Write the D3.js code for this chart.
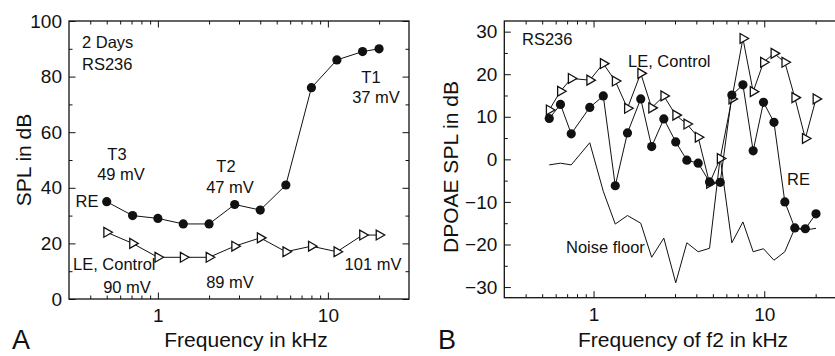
<!DOCTYPE html>
<html>
<head>
<meta charset="utf-8">
<script src="https://cdn.jsdelivr.net/npm/d3@7"></script>
<style>
  body { margin: 0; background: #fff; }
  text { font-family: "Liberation Sans", Arial, sans-serif; fill: #111; }
</style>
</head>
<body>
<svg id="chart" width="835" height="356"></svg>
<script>
// --> DATA
// Panel A: thresholds (SPL in dB) per frequency
var freqA = [0.5, 0.71, 1, 1.41, 2, 2.83, 4, 5.66, 8, 11.3, 16, 20];
var threshRE = [35, 30, 29, 27, 27, 34, 32, 41, 76, 86, 89, 90];
var threshLE = [24, 20, 15, 15, 15, 19, 22, 17, 19, 17, 23, 23];

// Panel B: DPOAE levels per f2 frequency
var freqB = [0.55, 0.64, 0.74, 0.95, 1.14, 1.34, 1.58, 1.89, 2.19, 2.58, 3.03, 3.52,
             4.1, 4.78, 5.52, 6.46, 7.5, 8.61, 9.9, 11.4, 13.2, 15.1, 17.4, 20.1];
var dpRE = [9.6, 12.9, 6.0, 12.2, 14.9, -6.2, 6.2, 14.2, 3.0, 9.5, 4.1, -0.2,
            -0.9, -5.3, -5.4, 15.1, 17.5, 2.0, 13.4, 8.7, -10, -16.1, -16.3, -12.8];
var dpLE = [11.6, 16.0, 19.0, 18.6, 22.5, 18.4, 12.0, 20.2, 12.1, 14.9, 10.4, 8.3,
            5.2, -5.6, 0.2, 14.2, 28.4, 15.9, 22.8, 24.9, 22.8, 14.5, 4.9, 14.2];
var noiseFloor = [-1.3, -0.9, -1.3, 3.9, -7.5, -15.2, -13.2, -15, -23, -18.5, -29, -19.6,
                  -21.7, -20.9, 0.5, -19.6, -14.7, -21.7, -21, -23.7, -21.7, -16.2, -16.6, -16.2];

// Tick values
var xMajor = [1, 10];
var xMinor = [0.4, 0.5, 0.6, 0.7, 0.8, 0.9, 2, 3, 4, 5, 6, 7, 8, 9, 20];
var yMajorA = [0, 20, 40, 60, 80, 100];
var yMinorA = [10, 30, 50, 70, 90];
var yMajorB = [-30, -20, -10, 0, 10, 20, 30];
var yMinorB = [-25, -15, -5, 5, 15, 25];

var svg = d3.select("#chart");

// draw a panel frame with inward ticks on all four sides
function drawFrame(g, x, y, yMajor, yMinor) {
    var x0 = x.range()[0], x1 = x.range()[1];
    var y0 = y.range()[0], y1 = y.range()[1];

    function axisPair(axisFn, scale, major, minor, tx, ty, labels) {
        g.append("g")
            .attr("transform", "translate(" + tx + "," + ty + ")")
            .call(axisFn(scale).tickValues(minor).tickSize(-3.5).tickFormat(""))
            .call(function (s) { s.select(".domain").remove(); });
        var ax = g.append("g")
            .attr("transform", "translate(" + tx + "," + ty + ")")
            .call(axisFn(scale).tickValues(major).tickSize(-6.5).tickPadding(7)
                .tickFormat(labels ? d3.format("d") : ""))
            .call(function (s) { s.select(".domain").remove(); });
        ax.selectAll("line").attr("stroke", "#111");
        ax.selectAll("text").attr("font-size", "19px").attr("fill", "#111");
        g.selectAll("line").attr("stroke", "#111");
        return ax;
    }

    axisPair(d3.axisBottom, x, xMajor, xMinor, 0, y0, true)
        .selectAll("text").attr("dy", "0.71em").attr("y", 10);
    axisPair(d3.axisTop, x, xMajor, xMinor, 0, y1, false);
    axisPair(d3.axisLeft, y, yMajor, yMinor, x0, 0, true);
    axisPair(d3.axisRight, y, yMajor, yMinor, x1, 0, false);

    g.append("rect")
        .attr("x", x0).attr("y", y1)
        .attr("width", x1 - x0).attr("height", y0 - y1)
        .attr("fill", "none").attr("stroke", "#111").attr("stroke-width", 1.3);
}

function drawSeries(g, x, y, freqs, vals, marker) {
    var pts = freqs.map(function (f, i) { return [f, vals[i]]; });
    var line = d3.line().x(function (d) { return x(d[0]); }).y(function (d) { return y(d[1]); });
    g.append("path").attr("d", line(pts))
        .attr("fill", "none").attr("stroke", "#111").attr("stroke-width", 1);
    if (marker === "circle") {
        g.selectAll(null).data(pts).enter().append("circle")
            .attr("cx", function (d) { return x(d[0]); })
            .attr("cy", function (d) { return y(d[1]); })
            .attr("r", 4.6).attr("fill", "#111");
    } else if (marker === "triangle") {
        var tri = d3.symbol().type(d3.symbolTriangle).size(42);
        g.selectAll(null).data(pts).enter().append("path")
            .attr("d", tri)
            .attr("transform", function (d) {
                return "translate(" + x(d[0]) + "," + y(d[1]) + ") rotate(90)";
            })
            .attr("fill", "#fff").attr("stroke", "#111").attr("stroke-width", 1.3);
    }
}

function label(g, txt, x, y, anchor, size) {
    g.append("text").attr("x", x).attr("y", y)
        .attr("text-anchor", anchor || "start")
        .attr("font-size", (size || 16.5) + "px")
        .text(txt);
}

// --> PANEL A
var xA = d3.scaleLog().domain([0.3, 30]).range([69, 409]);
var yA = d3.scaleLinear().domain([0, 100]).range([299, 21]);
var gA = svg.append("g");
drawFrame(gA, xA, yA, yMajorA, yMinorA);
drawSeries(gA, xA, yA, freqA, threshLE, "triangle");
drawSeries(gA, xA, yA, freqA, threshRE, "circle");

label(gA, "2 Days", 82, 48);
label(gA, "RS236", 82, 70);
label(gA, "T3", 117, 160, "middle");
label(gA, "49 mV", 121, 180, "middle");
label(gA, "RE", 87, 207, "middle");
label(gA, "T2", 226, 172, "middle");
label(gA, "47 mV", 230, 193, "middle");
label(gA, "T1", 371, 83, "middle");
label(gA, "37 mV", 376, 103, "middle");
label(gA, "LE, Control", 73, 270);
label(gA, "90 mV", 127, 293, "middle");
label(gA, "89 mV", 230, 288, "middle");
label(gA, "101 mV", 373, 270, "middle");

gA.append("text").attr("x", 246).attr("y", 347).attr("text-anchor", "middle")
    .attr("font-size", "21px").text("Frequency in kHz");
gA.append("text").attr("transform", "translate(31,160) rotate(-90)")
    .attr("text-anchor", "middle").attr("font-size", "21px").text("SPL in dB");
label(gA, "A", 12, 349, "start", 27);

// --> PANEL B
var xB = d3.scaleLog().domain([0.3, 30]).range([504.3, 845.7]);
var yB = d3.scaleLinear().domain([-32.5, 32.5]).range([297.7, 21]);
var gB = svg.append("g");
drawFrame(gB, xB, yB, yMajorB, yMinorB);
drawSeries(gB, xB, yB, freqB, noiseFloor, null);
drawSeries(gB, xB, yB, freqB, dpLE, "triangle");
drawSeries(gB, xB, yB, freqB, dpRE, "circle");

label(gB, "RS236", 522, 45);
label(gB, "LE, Control", 628, 67);
label(gB, "RE", 787, 185);
label(gB, "Noise floor", 566, 253);

gB.append("text").attr("x", 683).attr("y", 347).attr("text-anchor", "middle")
    .attr("font-size", "21px").text("Frequency of f2 in kHz");
gB.append("text").attr("transform", "translate(458,167) rotate(-90)")
    .attr("text-anchor", "middle").attr("font-size", "21px").text("DPOAE SPL in dB");
label(gB, "B", 438, 349, "start", 27);
</script>
</body>
</html>
